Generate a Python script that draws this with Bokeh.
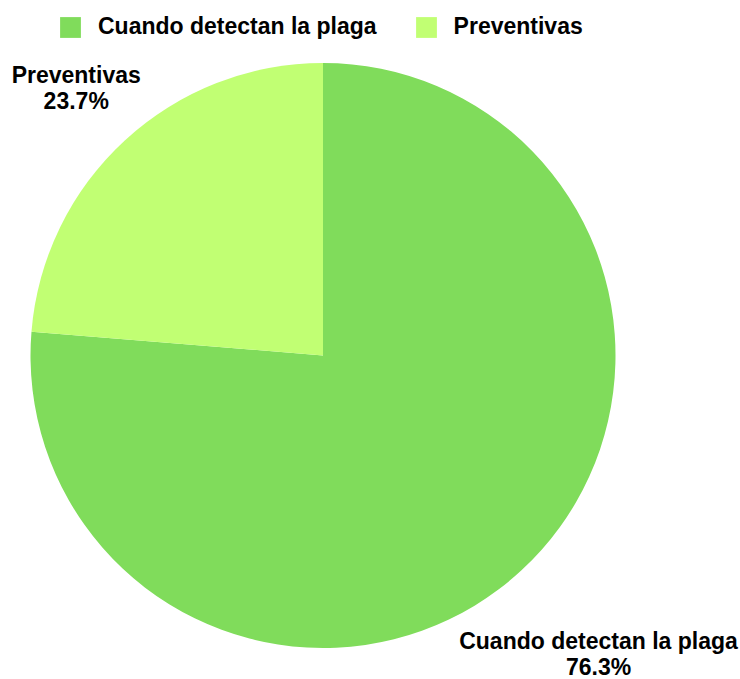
import math
from bokeh.plotting import figure
from bokeh.models import ColumnDataSource, Range1d, Legend, LegendItem
from bokeh.core.properties import value
from bokeh.embed import file_html
from bokeh.resources import INLINE

# ---- data ----
categories = ["Cuando detectan la plaga", "Preventivas"]
values = [76.3, 23.7]
colors = ["#80DC5B", "#C1FF73"]

# ---- layout ----
W, H = 740, 679
cx, cy = 322.5, H - 355.0   # centre in plot units (pixels, y up)
r = 292.5
label_dist = [1.39, 1.245]  # label distance factor per slice
line_gap = 13.0
FONT = "Liberation Sans"
FS = "23px"

total = sum(values)
fracs = [v / total for v in values]
starts, ends, mids, pcts = [], [], [], []
acc = 0.0
for f in fracs:
    a0 = math.pi / 2 - acc * 2 * math.pi
    acc += f
    a1 = math.pi / 2 - acc * 2 * math.pi
    starts.append(a0)
    ends.append(a1)
    mids.append((a0 + a1) / 2)
    pcts.append(f"{f * 100:.1f}%")

src = ColumnDataSource(dict(name=categories, start=starts, end=ends, color=colors))

p = figure(width=W, height=H, output_backend="svg", toolbar_location=None,
           x_range=Range1d(0, W), y_range=Range1d(0, H),
           min_border=0, outline_line_color=None)
p.axis.visible = False
p.grid.visible = False
p.background_fill_color = "white"

wr = p.wedge(x=cx, y=cy, radius=r, start_angle="start", end_angle="end",
             direction="clock", fill_color="color", line_color=None, source=src)

lx, ly1, ly2 = [], [], []
for m, k in zip(mids, label_dist):
    x = cx + r * k * math.cos(m)
    y = cy + r * k * math.sin(m)
    lx.append(x)
    ly1.append(y + line_gap)
    ly2.append(y - line_gap)

lsrc = ColumnDataSource(dict(x=lx, y1=ly1, y2=ly2, name=categories, pct=pcts))
for ycol, tcol in (("y1", "name"), ("y2", "pct")):
    p.text(x="x", y=ycol, text=tcol, source=lsrc, text_align="center",
           text_baseline="middle", text_font=value(FONT), text_font_style="bold",
           text_font_size=FS, text_color="black")

items = [LegendItem(label=c, renderers=[wr], index=i) for i, c in enumerate(categories)]
legend = Legend(items=items, orientation="horizontal", location=(57, H - 40),
                glyph_width=26, glyph_height=26, label_height=26,
                label_standoff=15, spacing=36, padding=0, margin=0,
                border_line_color=None, background_fill_alpha=0,
                label_text_font=FONT, label_text_font_style="bold",
                label_text_font_size=FS, label_text_color="black")
p.add_layout(legend, "center")

open("out.html", "w").write(file_html(p, INLINE))
